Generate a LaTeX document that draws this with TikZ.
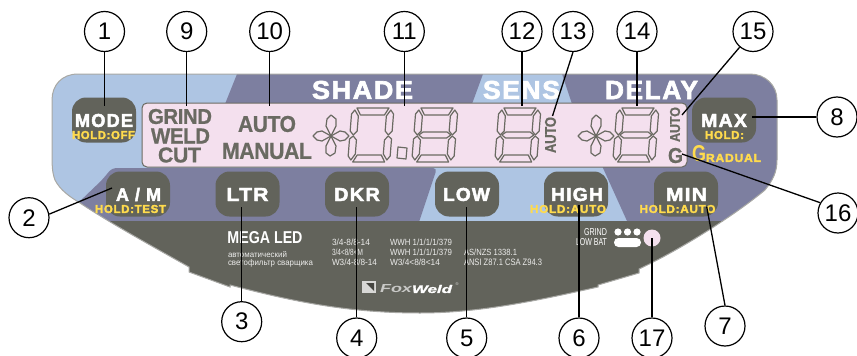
\documentclass[tikz,border=0pt]{standalone}
\usepackage{graphicx}
\usepackage{fontspec}
\setmainfont{Liberation Sans}
\definecolor{pblue}{HTML}{AEC5E3}
\definecolor{ppurple}{HTML}{7D7FA0}
\definecolor{pgrey}{HTML}{62635B}
\definecolor{ppink}{HTML}{F4E0EE}
\definecolor{pyellow}{HTML}{FFDB4D}
\definecolor{plcd}{HTML}{6A6A62}
\definecolor{pedge}{HTML}{A8A8A4}
\newcommand{\fit}[3]{\resizebox{#1pt}{#2pt}{\bfseries #3}}
\newcommand{\fitk}[3]{\resizebox{#1pt}{#2pt}{\bfseries\addfontfeature{LetterSpace=6,FakeBold=2.5}#3}}
\newcommand{\fith}[3]{\resizebox{#1pt}{#2pt}{\bfseries\addfontfeature{LetterSpace=6,FakeBold=2.5}#3}}
\newcommand{\fitl}[3]{\resizebox{#1pt}{#2pt}{\bfseries\addfontfeature{LetterSpace=-2,FakeBold=0.8}#3}}
\newcommand{\fitr}[3]{\resizebox{#1pt}{#2pt}{#3}}
\newcommand{\panelpath}{
 (52,100) -- (52,150)
 .. controls (52,165) and (52,172) .. (55,180)
 .. controls (60,190) and (70,197) .. (80,203)
 .. controls (110,223) and (150,245) .. (189,267) -- (189,272) -- (230,287) -- (230,285)
 .. controls (280,298) and (340,313) .. (420,313)
 .. controls (480,313) and (540,300) .. (598,287)
 -- (598,285) -- (639,273) -- (639,269)
 .. controls (680,250) and (735,215) .. (765,190)
 .. controls (773,180) and (777,172) .. (777,160)
 -- (777,100) .. controls (777,85) and (765,74) .. (750,74)
 -- (78,74) .. controls (62,74) and (52,85) .. (52,100) -- cycle}
\newcommand{\segment}[1]{\draw[segline] #1 -- cycle;}
\newcommand{\digitbase}{
 \segment{(5,0)--(37,0)--(33,7)--(9,7)}
 \segment{(39,2)--(42,6)--(42,23)--(38.5,27)--(35,23)--(35,8)}
 \segment{(3,2)--(0,6)--(0,23)--(3.5,27)--(7,23)--(7,8)}
 \segment{(38.5,28)--(42,31)--(42,48)--(39,52)--(35,46)--(35,32)}
 \segment{(3.5,28)--(0,31)--(0,48)--(3,52)--(7,46)--(7,32)}
 \segment{(5,54)--(37,54)--(33,47)--(9,47)}}
\newcommand{\digitmid}{\segment{(5,27)--(9,24)--(33,24)--(37,27)--(33,30)--(9,30)}}
\newcommand{\crossmark}{
 \segment{(0,0)--(-5,-10)--(-4,-17)--(0,-21)--(5,-17)--(5,-10)}
 \segment{(0,0)--(-5,10)--(-5,17)--(-1,20)--(4,17)--(5,10)}
 \segment{(0,0)--(-9,-5)--(-14,-4)--(-18,0)--(-14,4)--(-9,5)}
 \segment{(0,0)--(9,-5)--(14,-4)--(18,0)--(14,4)--(9,5)}}
\tikzset{
 segline/.style={draw=plcd,line width=1.2pt,line join=round},
 keybox/.style={fill=pgrey,rounded corners=14pt,minimum width=64pt,minimum height=45pt,inner sep=0pt},
 lab/.style={inner sep=0pt,outer sep=0pt},
 keytext/.style={lab,text=white},
 holdtext/.style={lab,text=pyellow},
 lcdtext/.style={lab,text=plcd},
 graytext/.style={lab,anchor=west,text=white!88!pgrey},
 callout/.style={circle,draw=black,fill=white,line width=1.2pt,minimum size=40pt,inner sep=0pt,font=\fontsize{24}{24}\selectfont},
 leader/.style={draw=black,line width=1.3pt}
}
\begin{document}
\begin{tikzpicture}[x=1pt,y=-1pt]
\useasboundingbox (0,0) rectangle (857,356);
% panel
\begin{scope}
\clip \panelpath;
\fill[pblue] (40,60) rectangle (800,330);
\fill[ppurple] (237,74) -- (483,74) -- (472,104) -- (225,104) -- cycle;
\fill[ppurple] (562,74) -- (800,74) -- (800,221) -- (627,221) -- (603,168) -- (572,104) -- cycle;
\fill[ppurple,rounded corners=4pt] (112,168) -- (437,168) -- (418,225) -- (60,225) -- (78,203) -- (102,180) -- cycle;
\fill[pgrey] (40,221) rectangle (800,330);
\end{scope}
\draw[pedge,line width=1pt] \panelpath;
% LCD
\node[draw=plcd,fill=ppink,line width=1pt,rounded corners=5pt,minimum width=545pt,minimum height=64pt,inner sep=0pt] (lcd) at (414.5,135) {};
% LCD segments
\begin{scope}[shift={(352,108)},xslant=0.08]\digitbase\end{scope}
\begin{scope}[shift={(416,108)},xslant=0.08]\digitbase\digitmid\end{scope}
\begin{scope}[shift={(499,108)},xslant=0.08]\digitbase\digitmid\end{scope}
\begin{scope}[shift={(617,108)},xslant=0.08]\digitbase\digitmid\end{scope}
\begin{scope}[shift={(331,136)}]\crossmark\end{scope}
\begin{scope}[shift={(596,136)}]\crossmark\end{scope}
\draw[segline] (398,147) -- (407,148) -- (406,159) -- (397,158) -- cycle;
% LCD text
\node[lcdtext] (tgrind) at (180,116.5) {\fitl{64}{15}{GRIND}};
\node[lcdtext] (tweld) at (180.5,136) {\fitl{59}{15}{WELD}};
\node[lcdtext] (tcut) at (179.5,155) {\fitl{43}{15}{CUT}};
\node[lcdtext] (tauto) at (267,124) {\fitl{58}{16}{AUTO}};
\node[lcdtext] (tmanual) at (267,151) {\fitl{90}{16}{MANUAL}};
\node[lcdtext,rotate=90] (tautob) at (550.5,135) {\fitl{36}{11}{AUTO}};
\node[lcdtext,rotate=90] (tautoc) at (675,124.5) {\fitl{35}{10}{AUTO}};
\node[lcdtext] (tg) at (675.5,155.5) {\fitl{15}{15}{G}};
% headings
\node[keytext] (tshade) at (362.5,90) {\fitk{101}{18}{SHADE}};
\node[keytext] (tsens) at (521.5,90) {\fitk{77}{18}{SENS}};
\node[keytext] (tdelay) at (651.5,90) {\fitk{93}{18}{DELAY}};
% keys
\node[keybox] (kmode) at (104,120) {};
\node[keybox] (kam) at (138,194) {};
\node[keybox] (kltr) at (247.5,194) {};
\node[keybox] (kdkr) at (357,194) {};
\node[keybox] (klow) at (467,194) {};
\node[keybox] (khigh) at (576,194) {};
\node[keybox] (kmin) at (686,194) {};
\node[keybox] (kmax) at (724,120) {};
\node[keytext] (tmode) at (104,120.5) {\fitk{58}{13}{MODE}};
\node[holdtext] (hmode) at (103.5,135) {\fith{63}{8}{HOLD:OFF}};
\node[keytext] (tam) at (138.5,194.5) {\fitk{45}{13}{A / M}};
\node[holdtext] (ham) at (130.5,209) {\fith{71}{8}{HOLD:TEST}};
\node[keytext] (tltr) at (247.5,194.5) {\fitk{42}{13}{LTR}};
\node[keytext] (tdkr) at (357,194.5) {\fitk{46}{13}{DKR}};
\node[keytext] (tlow) at (466.5,194.5) {\fitk{47}{13}{LOW}};
\node[keytext] (thigh) at (577,194.5) {\fitk{52}{13}{HIGH}};
\node[holdtext] (hhigh) at (568,209) {\fith{76}{8}{HOLD:AUTO}};
\node[keytext] (tmin) at (686.5,194.5) {\fitk{41}{13}{MIN}};
\node[holdtext] (hmin) at (677.5,209) {\fith{76}{8}{HOLD:AUTO}};
\node[keytext] (tmax) at (724,120.5) {\fitk{46}{13}{MAX}};
\node[holdtext] (hmax) at (724.5,135) {\fith{39}{8}{HOLD:}};
\node[holdtext] (tgr) at (699,154) {\fit{14}{16}{G}};
\node[holdtext] (tradual) at (733.5,158) {\fith{55}{8}{RADUAL}};
% grey area
\node[keytext] (tmega) at (265,238) {\fit{75}{12}{MEGA LED}};
\node[graytext] (tru1) at (228,254.5) {\fitr{59}{6}{автоматический}};
\node[graytext] (tru2) at (228,263) {\fitr{85}{6}{светофильтр сварщика}};
\node[graytext] (c1a) at (332,242) {\fitr{38}{6.5}{3/4-8/8-14}};
\node[graytext] (c1b) at (332,252) {\fitr{31}{6.5}{3/4<8/8<M}};
\node[graytext] (c1c) at (332,262) {\fitr{45}{6.5}{W3/4-8/8-14}};
\node[graytext] (c2a) at (390,242) {\fitr{62}{6.5}{WWH 1/1/1/1/379}};
\node[graytext] (c2b) at (390,252) {\fitr{62}{6.5}{WWH 1/1/1/1/379}};
\node[graytext] (c2c) at (390,262) {\fitr{50}{6.5}{W3/4<8/8<14}};
\node[graytext] (c3a) at (464,252) {\fitr{53}{6.5}{AS/NZS 1338.1}};
\node[graytext] (c3b) at (464,262) {\fitr{78}{6.5}{ANSI Z87.1 CSA Z94.3}};
% logo
\draw[fill=white!75!pgrey,draw=none] (362,281) rectangle (376,293);
\fill[pgrey!70!black] (366,283) -- (374,291) -- (374,283) -- cycle;
\node[lab,anchor=west,text=white!65!pgrey] (tfox) at (380,289) {\resizebox{32pt}{8pt}{\bfseries\itshape Fox}};
\node[lab,anchor=west,text=white] (tfweld) at (412,289) {\resizebox{40pt}{8pt}{\bfseries\itshape\addfontfeature{FakeBold=1.5}Weld}};
\node[lab,text=white!80!pgrey,font=\fontsize{4}{4}\selectfont] (treg) at (457,284) {®};
% indicators
\node[lab,anchor=east,text=white] (tgrindb) at (607,232) {\fitr{23}{7}{GRIND}};
\node[lab,anchor=east,text=white] (tlowbat) at (607,242) {\fitr{31}{7}{LOW BAT}};
\fill[white] (618,232) circle (3.6) (627.5,232) circle (3.6) (637,232) circle (3.6);
\fill[white,rounded corners=4.4pt] (614,238) rectangle (641,247);
\node[circle,fill=ppink,minimum size=17pt,inner sep=0pt] (led) at (652,238) {};
% end points of the leaders
\coordinate (e1) at (104.5,106);
\coordinate (e2) at (112,188);
\coordinate (e3) at (241.7,207);
\coordinate (e4) at (356.7,207);
\coordinate (e5) at (466.7,207);
\coordinate (e6) at (579,205);
\coordinate (e7) at (706.7,206.7);
\coordinate (e8) at (752,117);
\coordinate (e9) at (186.7,106);
\coordinate (e10) at (269.7,106);
\coordinate (e11) at (404.3,106);
\coordinate (e12) at (522,106);
\coordinate (e13) at (552.5,116);
\coordinate (e14) at (637,106);
\coordinate (e15) at (682,115);
\coordinate (e16) at (682,154);
% callouts
\node[callout] (c1) at (104.5,31.5) {1};
\node[callout] (c2) at (29,217.7) {2};
\node[callout] (c3) at (241.7,321.7) {3};
\node[callout] (c4) at (356.7,338) {4};
\node[callout] (c5) at (466.7,338) {5};
\node[callout] (c6) at (579,338) {6};
\node[callout] (c7) at (725,326) {7};
\node[callout] (c8) at (837,117) {8};
\node[callout] (c9) at (186.7,31.5) {9};
\node[callout] (c10) at (269.7,31.5) {10};
\node[callout] (c11) at (404.3,31.5) {11};
\node[callout] (c12) at (522,31.5) {12};
\node[callout] (c13) at (573,31.5) {13};
\node[callout] (c14) at (637,31.5) {14};
\node[callout] (c15) at (753,31.5) {15};
\node[callout] (c16) at (838,213) {16};
\node[callout] (c17) at (652,338) {17};
% leaders
\draw[leader] (c1) -- (e1);
\draw[leader] (c2.10) -- (e2);
\draw[leader] (c3) -- (e3);
\draw[leader] (c4) -- (e4);
\draw[leader] (c5) -- (e5);
\draw[leader] (c6) -- (e6);
\draw[leader] (c7.north) -- (e7);
\draw[leader] (c8) -- (e8);
\draw[leader] (c9) -- (e9);
\draw[leader] (c10) -- (e10);
\draw[leader] (c11) -- (e11);
\draw[leader] (c12) -- (e12);
\draw[leader] (c13.south) -- (e13);
\draw[leader] (c14) -- (e14);
\draw[leader] (c15) -- (e15);
\draw[leader] (c16.150) -- (e16);
\draw[leader] (c17) -- (led.center);
\end{tikzpicture}
\end{document}
